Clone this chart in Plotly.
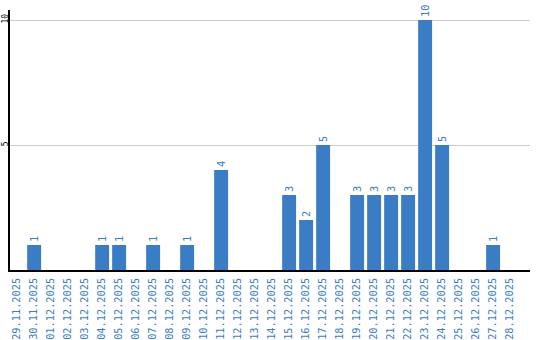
import plotly.graph_objects as go

dates = ["29.11.2025", "30.11.2025", "01.12.2025", "02.12.2025", "03.12.2025",
         "04.12.2025", "05.12.2025", "06.12.2025", "07.12.2025", "08.12.2025",
         "09.12.2025", "10.12.2025", "11.12.2025", "12.12.2025", "13.12.2025",
         "14.12.2025", "15.12.2025", "16.12.2025", "17.12.2025", "18.12.2025",
         "19.12.2025", "20.12.2025", "21.12.2025", "22.12.2025", "23.12.2025",
         "24.12.2025", "25.12.2025", "26.12.2025", "27.12.2025", "28.12.2025"]
counts = [0, 1, 0, 0, 0, 1, 1, 0, 1, 0,
          1, 0, 4, 0, 0, 0, 3, 2, 5, 0,
          3, 3, 3, 3, 10, 5, 0, 0, 1, 0]
y_ticks = [5, 10]

BLUE = "#3b7dc4"
labels = [str(v) if v else "" for v in counts]

fig = go.Figure(go.Bar(
    x=list(range(len(dates))), y=counts,
    marker=dict(color=BLUE, line=dict(width=0)),
    text=labels, textposition="outside", textangle=-90,
    textfont=dict(family="DejaVu Sans Mono", size=10.3, color=BLUE),
    cliponaxis=False,
))

fig.update_layout(
    width=540, height=340,
    margin=dict(l=10, r=10, t=10, b=70, autoexpand=False),
    paper_bgcolor="white", plot_bgcolor="white",
    bargap=0.18, showlegend=False,
    xaxis=dict(
        range=[-0.42, 30.17], automargin=False,
        tickmode="array", tickvals=list(range(len(dates))), ticktext=dates,
        tickangle=-90, showgrid=False, zeroline=False,
        showline=True, linecolor="black", linewidth=1.5,
        ticks="", tickfont=dict(family="DejaVu Sans Mono", size=10.3, color=BLUE),
        ticklabelstandoff=2,
    ),
    yaxis=dict(
        range=[0, 10.4], automargin=False, tickmode="array", tickvals=y_ticks,
        tickangle=-90, showgrid=True, gridcolor="#cccccc", gridwidth=1,
        zeroline=False, showline=True, linecolor="black", linewidth=1.5,
        ticks="", tickfont=dict(family="DejaVu Sans Mono", size=8, color="black"),
        ticklabelstandoff=-3,
    ),
)

fig.write_html("out.html")
